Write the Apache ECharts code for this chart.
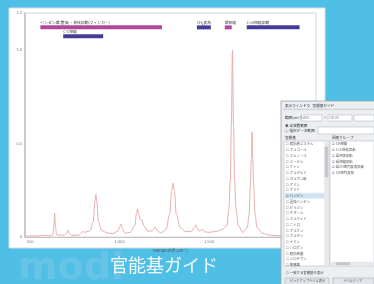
<!DOCTYPE html>
<html><head><meta charset="utf-8">
<script src="https://cdn.jsdelivr.net/npm/echarts@6/dist/echarts.min.js"></script>
<style>html,body{margin:0;padding:0;background:#4fbfe6;}#c{width:374px;height:284px;}</style>
</head><body><div id="c"></div>
<script>
// ---- data ----
const wavenumbers = [470,540,578,600,625,632,636,640,647,690,703,711,718,730,770,790,796,806,817,835,852,862,867,872,882,900,930,960,990,1000,1007,1014,1030,1060,1085,1095,1101,1107,1118,1126,1135,1160,1185,1198,1210,1230,1260,1280,1292,1299,1306,1318,1340,1370,1400,1418,1427,1436,1448,1458,1466,1476,1500,1540,1575,1600,1612,1620,1626,1632,1638,1644,1652,1665,1690,1715,1725,1733,1738,1742,1746,1751,1759,1770,1800,1840,1900,2000,2100];
const intensity   = [0.005,0.006,0.010,0.006,0.010,0.06,0.127,0.06,0.012,0.010,0.02,0.038,0.02,0.008,0.010,0.025,0.030,0.025,0.028,0.035,0.08,0.19,0.229,0.19,0.08,0.035,0.022,0.018,0.03,0.055,0.069,0.05,0.02,0.025,0.06,0.13,0.15,0.12,0.09,0.09,0.06,0.03,0.035,0.054,0.035,0.022,0.04,0.12,0.25,0.288,0.25,0.12,0.05,0.03,0.028,0.05,0.065,0.045,0.03,0.038,0.04,0.028,0.025,0.03,0.04,0.06,0.15,0.3,0.6,1.0,0.6,0.3,0.15,0.06,0.025,0.05,0.12,0.28,0.42,0.564,0.42,0.28,0.12,0.05,0.02,0.01,0.006,0.005,0.005];

const groupNames = ['ベンゼン環(置換)・骨格振動(フィンガー)','C-C伸縮','CH₂変角','環伸縮','C=O伸縮振動'];
const groupStart = [556,684,1433,1589,1712];
const groupEnd   = [1237,908,1511,1628,2008];
const groupRow   = [0,1,0,0,0];
const groupKind  = [0,1,1,0,1];

const xTicks = [500,1000,1500,2000];
const yTicks = [0,0.5,1.0,1.2];
const xName = 'Raman shift (cm⁻¹)';

const leftList = ['脂肪族エステル','アルコール','フェノール','エーテル','ケトン','アルデヒド','カルボン酸','アミン','アミド','ベンゼン','置換ベンゼン','ピリジン','チオール','スルフィド','ニトロ','アルケン','アルキン','イミン','ハロゲン','脂肪族鎖','シロキサン','無機塩'];
const rightList = ['CH伸縮','C=C骨格振動','環呼吸振動','環伸縮振動','環CH面内変角振動','CH面外変角'];
const checkedLeft = 9;

// ---- chart ----
const rowY = [1.123, 1.076];
const kindColor = ['#b0479b', '#433c98'];
const lineData = wavenumbers.map((w,i)=>[w,intensity[i]]);
const groupData = groupNames.map((n,i)=>[groupStart[i],groupEnd[i],rowY[groupRow[i]],groupKind[i]]);

const FONT = '"Noto Sans CJK JP", "Noto Sans", sans-serif';
const els = [];
// white panel
els.push({type:'rect', z:-10, shape:{x:9,y:8,width:316,height:240}, style:{fill:'#ffffff', stroke:'#d8dde2', lineWidth:1}});
// watermark
els.push({type:'text', z:-11, x:18, y:250, style:{text:'modi', fontSize:38, fontWeight:'bold', fontFamily:'DejaVu Sans', fill:'rgba(150,205,228,0.35)'}});
// title
els.push({type:'text', z:5, x:110, y:256, style:{text:'官能基ガイド', fontSize:18, fontFamily:FONT, fill:'rgba(255,255,255,0.92)'}});

// dialog
const D = {x:281, y:101};
const dz = 50;
els.push({type:'rect', z:dz, shape:{x:D.x,y:D.y,width:100,height:190}, style:{fill:'#eceef1', stroke:'#9aa4ad', lineWidth:0.8}});
function t(x,y,s,fs,col){els.push({type:'text', z:dz+2, x:x, y:y, style:{text:s, fontSize:fs||3.6, fontFamily:FONT, fill:col||'#333', verticalAlign:'middle'}});}
function r(x,y,w,h,fill,stroke){els.push({type:'rect', z:dz+1, shape:{x:x,y:y,width:w,height:h}, style:{fill:fill||'#fff', stroke:stroke||'#a8b0b8', lineWidth:0.5}});}
t(285,106,'表示ウィンドウ   官能基ガイド');
r(283,109,91,0.6,'#c8ced4','#c8ced4');
t(285,118,'範囲(cm⁻¹)');
r(301,115,21,6); t(302,118,'3500',3.2,'#888');
t(324,118,'~');
r(328,115,24,6); t(329,118,'100.00',3.2,'#888');
r(354,115,20,6);
t(285,126,'◉ 全波数範囲');
t(285,131,'○ 指定データ範囲');
r(318,127,56,7);
t(285,138,'官能基');
t(332,138,'関連グループ');
r(284,141,45,125);
r(324.5,141.5,4,124,'#e6e8eb','#e6e8eb');
r(325,147,3,30,'#c2c7cc','#c2c7cc');
leftList.forEach((s,i)=>{
  const y = 144 + i*5.75;
  if(i===checkedLeft) r(285,y-2.6,39,5.2,'#cfe3f5','#cfe3f5');
  t(286,y,(i===checkedLeft?'☑ ':'☐ ')+s,3.4,'#555');
});
r(330,141,44,125);
rightList.forEach((s,i)=>{ t(332,144+i*5.75,'☑ '+s,3.4,'#555'); });
r(331,262,43,3.5,'#e6e8eb','#e6e8eb');
r(336,262.5,14,2.5,'#c2c7cc','#c2c7cc');
t(286,273,'☐ 一致する官能基を表示',3.4,'#444');
r(285,278,44,8,'#e2e5e9','#9aa4ad'); t(290,281,'ピックアップラベル表示',3.2,'#555');
r(333,278,41,8,'#e2e5e9','#9aa4ad'); t(343,281,'ラベルクリア',3.2,'#555');

const chart = echarts.init(document.getElementById('c'), null, {renderer:'canvas'});
chart.setOption({
  backgroundColor:'#4fbfe6',
  animation:false,
  grid:{left:25, right:58, top:13, bottom:47, show:true, borderColor:'#c9c9c9', borderWidth:0.8, backgroundColor:'transparent'},
  xAxis:{type:'value', min:470, max:2100, name:xName, nameLocation:'middle', nameGap:8,
    nameTextStyle:{fontSize:4, color:'#555', fontFamily:FONT},
    axisLine:{show:true, lineStyle:{color:'#c4c4c4', width:1}},
    axisTick:{show:false},
    splitLine:{show:false},
    axisLabel:{customValues:xTicks, fontSize:4, color:'#777', margin:3}},
  yAxis:{type:'value', min:0, max:1.2,
    axisLine:{show:true, lineStyle:{color:'#c4c4c4', width:1.6}},
    axisTick:{show:false},
    splitLine:{show:false},
    axisLabel:{customValues:yTicks, fontSize:4, color:'#777', margin:3, formatter:v=> v===0?'0':v.toFixed(1)}},
  graphic:{elements:els},
  series:[
    {type:'line', data:lineData, showSymbol:false, smooth:0.35, smoothMonotone:'x',
     lineStyle:{color:'#e6adad', width:1}, z:3},
    {type:'custom', data:groupData, encode:{x:[0,1], y:2}, z:4,
     renderItem:function(params, api){
       const a = api.coord([api.value(0), api.value(2)]);
       const b = api.coord([api.value(1), api.value(2)]);
       const col = kindColor[api.value(3)];
       return {type:'group', children:[
         {type:'rect', shape:{x:a[0], y:a[1]-2, width:b[0]-a[0], height:4}, style:{fill:col}},
         {type:'text', x:a[0], y:a[1]-5, style:{text:groupNames[params.dataIndex], fontSize:3.8, fontFamily:FONT, fill:'#444', verticalAlign:'middle'}}
       ]};
     }}
  ]
});
</script></body></html>
